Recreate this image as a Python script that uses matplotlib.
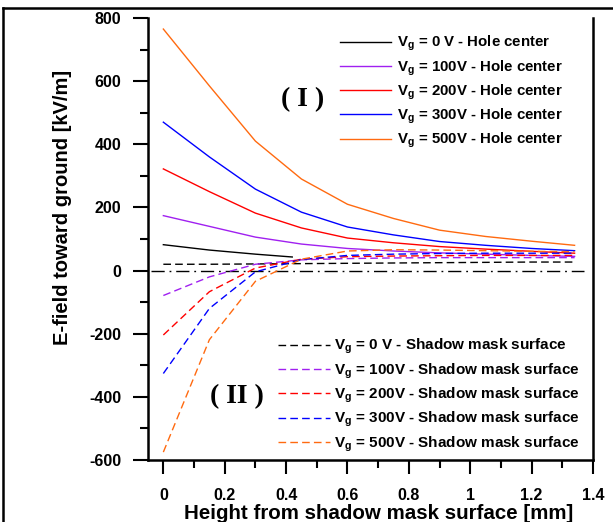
import matplotlib
matplotlib.use("Agg")
import matplotlib.pyplot as plt
from matplotlib.lines import Line2D
from matplotlib.ticker import MultipleLocator

plt.rcParams['font.family'] = ['Liberation Sans', 'DejaVu Sans']
plt.rcParams['font.weight'] = 'bold'
plt.rcParams['mathtext.fontset'] = 'custom'
plt.rcParams['mathtext.bf'] = 'Liberation Sans:bold'
plt.rcParams['mathtext.rm'] = 'Liberation Sans:bold'
plt.rcParams['mathtext.default'] = 'bf'
plt.rcParams['axes.unicode_minus'] = False

# data
heights = [0, 0.15, 0.3, 0.45, 0.6, 0.75, 0.9, 1.05, 1.2, 1.34]
heights_0v = [0, 0.15, 0.3, 0.42]
voltages = ['0 V', '100V', '200V', '300V', '500V']
colors = ['black', '#A020F0', '#FF0000', '#0000FF', '#FF6A10']

# hole center (solid)
hole_0v = [82, 65, 52, 43]
hole_100v = [174, 140, 106, 84, 70, 62, 56, 52, 48, 45]
hole_200v = [322, 250, 182, 135, 103, 88, 76, 68, 61, 55]
hole_300v = [470, 360, 258, 185, 138, 113, 92, 80, 70, 63]
hole_500v = [765, 585, 410, 290, 210, 165, 128, 108, 93, 80]

# shadow mask surface (dashed)
mask_0v = [20, 20, 21, 22, 23, 24, 25, 26, 27, 27]
mask_100v = [-79, -20, 20, 34, 38, 40, 41, 41, 41, 41]
mask_200v = [-204, -67, 8, 36, 44, 46, 47, 48, 48, 48]
mask_300v = [-326, -120, -4, 35, 48, 52, 54, 55, 55, 55]
mask_500v = [-575, -219, -34, 36, 62, 66, 65, 63, 61, 60]

hole = [hole_0v, hole_100v, hole_200v, hole_300v, hole_500v]
mask = [mask_0v, mask_100v, mask_200v, mask_300v, mask_500v]

fig = plt.figure(figsize=(6.13, 5.22), dpi=100)
ax = fig.add_axes([148 / 613, 1 - 460 / 522, 445 / 613, 442 / 522])

# reference line at zero
ax.axhline(0, xmin=0.007, xmax=0.979, color='black', lw=1.0,
           dashes=(9.5, 3.5, 1.3, 3.5))

hole_lines = []
for i, (v, c) in enumerate(zip(voltages, colors)):
    xs = heights_0v if i == 0 else heights
    ln, = ax.plot(xs, hole[i], color=c, lw=1.0,
                  label=r'V$_\mathbf{g}$ = ' + v + ' - Hole center')
    hole_lines.append(ln)

mask_lines = []
for i, (v, c) in enumerate(zip(voltages, colors)):
    ln, = ax.plot(heights, mask[i], color=c, lw=1.0, dashes=(5.5, 3),
                  label=r'V$_\mathbf{g}$ = ' + v + ' - Shadow mask surface')
    mask_lines.append(ln)

ax.set_xlim(-0.05, 1.4)
ax.set_ylim(-600, 800)
ax.xaxis.set_major_locator(MultipleLocator(0.2))
ax.xaxis.set_minor_locator(MultipleLocator(0.1))
ax.yaxis.set_major_locator(MultipleLocator(200))
ax.yaxis.set_minor_locator(MultipleLocator(100))
ax.set_xticks([0, 0.2, 0.4, 0.6, 0.8, 1.0, 1.2, 1.4])
ax.set_xticklabels(['0', '0.2', '0.4', '0.6', '0.8', '1', '1.2', '1.4'])
ax.tick_params(which='major', direction='out', length=11, width=1.5,
               labelsize=11.5, pad=8)
ax.tick_params(which='minor', direction='out', length=6, width=1.5)
ax.tick_params(axis='x', which='major', length=10, pad=10)
for s in ['left', 'bottom', 'right']:
    ax.spines[s].set_linewidth(1.8)
ax.spines['top'].set_visible(False)

ax.set_xlabel('Height from shadow mask surface [mm]', fontsize=14.8,
              fontweight='bold', va='center')
ax.xaxis.set_label_coords(0.519, -0.12)
ax.set_ylabel('E-field toward ground [kV/m]', fontsize=14.5,
              fontweight='bold', va='center')
ax.yaxis.set_label_coords(-0.193, 0.572)

leg1 = ax.legend(handles=hole_lines, loc='upper left', frameon=False,
                 bbox_to_anchor=(340 / 613, 1 - 34 / 522),
                 bbox_transform=fig.transFigure, borderpad=0, borderaxespad=0,
                 handlelength=3.4, handletextpad=0.4, labelspacing=0.33,
                 prop={'size': 10.8, 'weight': 'bold'})
ax.add_artist(leg1)
ax.legend(handles=mask_lines, loc='upper left', frameon=False,
          bbox_to_anchor=(278 / 613, 1 - 337 / 522),
          bbox_transform=fig.transFigure, borderpad=0, borderaxespad=0,
          handlelength=3.4, handletextpad=0.25, labelspacing=0.33,
          prop={'size': 11, 'weight': 'bold'})

ax.text(303 / 613, 1 - 100 / 522, '( I )', transform=fig.transFigure,
        ha='center', va='center', fontsize=20, fontweight='bold',
        family='Liberation Serif')
ax.text(237 / 613, 1 - 397 / 522, '( II )', transform=fig.transFigure,
        ha='center', va='center', fontsize=20, fontweight='bold',
        family='Liberation Serif')

# outer frame of the figure
fig.add_artist(Line2D([3 / 613, 1.0], [1 - 8 / 522, 1 - 8 / 522],
                      transform=fig.transFigure, color='black', lw=1.8))
fig.add_artist(Line2D([3 / 613, 3 / 613], [0, 1 - 8 / 522],
                      transform=fig.transFigure, color='black', lw=1.8))

fig.savefig('out.png', dpi=100)
